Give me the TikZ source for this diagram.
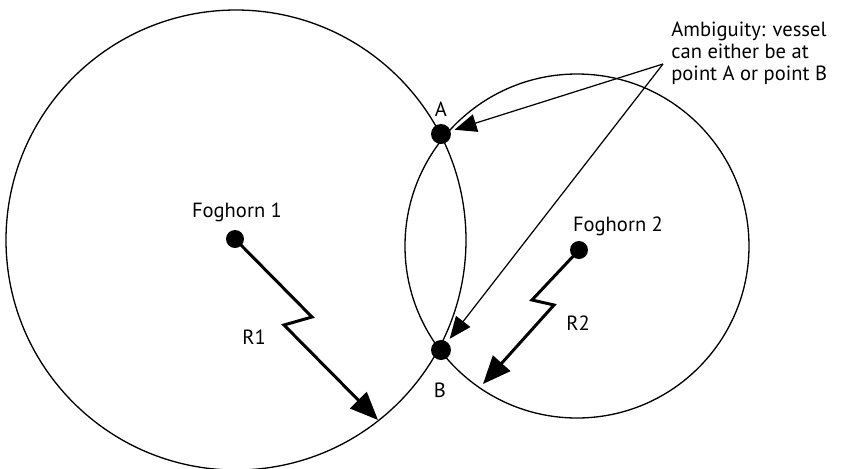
\documentclass[tikz,border=0pt]{standalone}
\usepackage{fontspec}
\setmainfont{PT Sans}
\usetikzlibrary{arrows.meta}
\tikzset{
	dot/.style={circle,fill=black,inner sep=0pt,minimum size=#1},
	dot/.default=0.4cm,
	lbl/.style={inner sep=0pt,font=\fontsize{11.7}{12.4}\selectfont},
	rangearrow/.style={line width=1.7pt,line join=miter,-{Triangle[length=0.56cm,width=0.46cm]}},
	pointer/.style={line width=0.7pt,shorten >=2.2pt,-{Triangle[length=0.44cm,width=0.36cm]}}
}

\begin{document}
\begin{tikzpicture}[x=0.02cm,y=-0.02cm]
				\useasboundingbox (0,0) rectangle (850,468);
				
				\draw[line width=0.75pt] (236,240) circle (230);
				\draw[line width=0.75pt] (577,246) circle (172);
				
				\node[dot] (ptA) at (441,134) {};
				\node[dot] (ptB) at (441,350) {};
				\node[lbl] at (441,109) {A};
				\node[lbl] at (440,390) {B};
				
				\node[dot=0.36cm] (fh1) at (235,239) {};
				\node[lbl] at (237,212) {Foghorn 1};
				\coordinate (r1a) at (312,317);
				\coordinate (r1b) at (284,325);
				\coordinate (r1tip) at (378,420);
				\draw[rangearrow] (fh1.center) -- (r1a) -- (r1b) -- (r1tip);
				\node[lbl] at (254,337) {R1};
				
				\node[dot=0.36cm] (fh2) at (579,250) {};
				\node[lbl] at (618,226) {Foghorn 2};
				\coordinate (r2a) at (532,300);
				\coordinate (r2b) at (554,305);
				\coordinate (r2tip) at (483,384);
				\draw[rangearrow] (fh2.center) -- (r2a) -- (r2b) -- (r2tip);
				\node[lbl] at (578,323) {R2};
				
				\node[lbl,anchor=west,align=left] (note) at (671,53) {Ambiguity: vessel\\can either be at\\point A or point B};
				\coordinate (apex) at (663,64);
				\draw[pointer] (apex) -- (ptA);
				\draw[pointer] (apex) -- (ptB);
			\end{tikzpicture}
\end{document}
